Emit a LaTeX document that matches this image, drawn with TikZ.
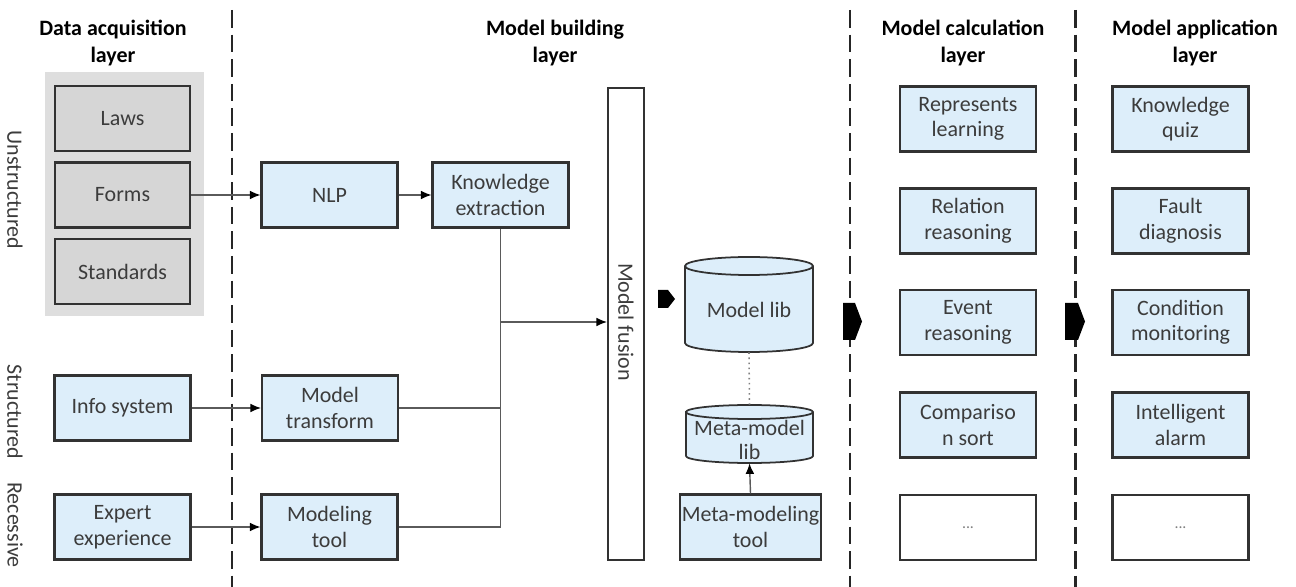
\documentclass[tikz,border=0pt]{standalone}
\usepackage{fontspec}
\setmainfont{Carlito}
\usetikzlibrary{arrows.meta}
\definecolor{boxblue}{RGB}{221,238,250}
\definecolor{boxgray}{RGB}{214,214,214}
\definecolor{panelgray}{RGB}{222,222,222}
\definecolor{edge}{RGB}{50,50,50}
\definecolor{ink}{RGB}{60,60,60}
\definecolor{wire}{RGB}{90,90,90}
\tikzset{
  base/.style={draw=edge, line width=1.2pt, inner sep=1pt, align=center,
    text=ink, font=\fontsize{12.5}{14.5}\selectfont},
  bluebox/.style={base, fill=boxblue, minimum width=2.72cm, minimum height=1.3cm},
  graybox/.style={base, fill=boxgray, minimum width=2.70cm, minimum height=1.3cm},
  blankbox/.style={base, fill=white, minimum width=2.72cm, minimum height=1.3cm},
  layertitle/.style={align=center, font=\bfseries\fontsize{12.5}{15.5}\selectfont, text=black},
  sidelabel/.style={rotate=-90, text=ink, font=\fontsize{12.5}{15}\selectfont},
  divider/.style={draw=black!85, line width=1.7pt, dash pattern=on 10pt off 4pt},
  flow/.style={draw=wire, line width=0.8pt, -{Latex[length=6pt,width=5pt,color=black]}},
  plain/.style={draw=wire, line width=0.8pt},
  blockarrow/.style={fill=black, draw=none},
  cyl/.style={fill=boxblue, draw=edge, line width=1pt},
}
\begin{document}
\begin{tikzpicture}[x=0.02cm, y=-0.02cm]
\useasboundingbox (0,0) rectangle (1296,587);

% layer dividers
\draw[divider] (232,10) -- (232,587);
\draw[divider] (850,10) -- (850,587);
\draw[divider] (1075,10) -- (1075,587);

% layer titles
\node[layertitle] (t1) at (113,43) {Data acquisition\\layer};
\node[layertitle] (t2) at (555,43) {Model building\\layer};
\node[layertitle] (t3) at (963,43) {Model calculation\\layer};
\node[layertitle] (t4) at (1195,43) {Model application\\layer};

% data categories
\node[sidelabel] (s1) at (15,190) {Unstructured};
\node[sidelabel] (s2) at (15,412) {Structured};
\node[sidelabel] (s3) at (15,525) {Recessive};

% unstructured sources
\fill[panelgray] (45,72) rectangle (204,316);
\node[graybox] (laws) at (122.5,118.5) {Laws};
\node[graybox] (forms) at (122.5,195) {Forms};
\node[graybox] (standards) at (122.5,271.5) {Standards};

% structured and recessive sources
\node[bluebox] (info) at (122.5,408) {Info system};
\node[bluebox] (expert) at (122.5,527) {Expert\\experience};

% model building
\node[bluebox] (nlp) at (329.5,195) {NLP};
\node[bluebox] (ke) at (500.5,195) {Knowledge\\extraction};
\node[bluebox] (mt) at (330,408) {Model\\transform};
\node[bluebox] (mtool) at (329.5,527) {Modeling\\tool};

\node[draw=edge, line width=1.2pt, fill=white, minimum width=0.72cm, minimum height=9.44cm,
      inner sep=0pt] (fusion) at (626,324) {};
\node[sidelabel, text=ink] (fusiontext) at (626,322) {Model fusion};

% model library cylinder (y grows downwards here)
\filldraw[cyl]
  (685,266) -- (685,343) arc[start angle=180, end angle=0, x radius=64, y radius=9]
  -- (813,266) arc[start angle=0, end angle=-180, x radius=64, y radius=9] -- cycle;
\draw[edge, line width=1pt] (685,266) arc[start angle=180, end angle=0, x radius=64, y radius=9];
\node[inner sep=0pt, minimum width=2.56cm, minimum height=1.9cm] (mlib) at (749,304.5) {};
\node[text=ink, font=\fontsize{12.5}{14.5}\selectfont] (mlibtext) at (749,310) {Model lib};

% meta-model library cylinder
\filldraw[cyl]
  (686,412) -- (686,456) arc[start angle=180, end angle=0, x radius=63.5, y radius=7]
  -- (813,412) arc[start angle=0, end angle=-180, x radius=63.5, y radius=7] -- cycle;
\draw[edge, line width=1pt] (686,412) arc[start angle=180, end angle=0, x radius=63.5, y radius=7];
\node[inner sep=0pt, minimum width=2.54cm, minimum height=1.16cm] (metalib) at (749.5,434) {};
\node[text=ink, align=center, font=\fontsize{12.5}{14}\selectfont] (metalibtext) at (749.5,440) {Meta-model\\lib};

\node[bluebox, minimum width=2.7cm] (metatool) at (750.5,527) {Meta-modeling\\tool};

% model calculation
\node[bluebox] (c1) at (968,119) {Represents\\learning};
\node[bluebox] (c2) at (968,221) {Relation\\reasoning};
\node[bluebox] (c3) at (968,322.5) {Event\\reasoning};
\node[bluebox] (c4) at (968,425) {Compariso\\n sort};
\node[blankbox] (c5) at (968,527.5) {\textcolor{gray}{\fontsize{9}{10}\selectfont ...}};

% model application
\node[bluebox] (a1) at (1180.5,119) {Knowledge\\quiz};
\node[bluebox] (a2) at (1180.5,221) {Fault\\diagnosis};
\node[bluebox] (a3) at (1180.5,322.5) {Condition\\monitoring};
\node[bluebox] (a4) at (1180.5,425) {Intelligent\\alarm};
\node[blankbox] (a5) at (1180.5,527.5) {\textcolor{gray}{\fontsize{9}{10}\selectfont ...}};

% connectors
\draw[flow] (forms.east) -- (nlp.west);
\draw[flow] (nlp) -- (ke);
\draw[flow] (info) -- (mt);
\draw[flow] (expert) -- (mtool);
\coordinate (join) at (500.5,322);
\draw[plain] (ke.south) -- (join);
\draw[plain] (mt.east) -| (join);
\draw[plain] (mtool.east) -| (join);
\draw[flow] (join) -- (fusion.west |- join);
\draw[draw=gray, line width=0.9pt, dotted] (mlib.south) -- (metalib.north);
\draw[flow] (metatool.north) -- (metalib.south);

% flow between layers
\fill[blockarrow] (658,290) -- (668,290) -- (675,299) -- (668,308) -- (658,308) -- cycle;
\fill[blockarrow] (843,303) -- (855,303) -- (862,321.5) -- (855,340) -- (843,340) -- cycle;
\fill[blockarrow] (1065,303) -- (1078,303) -- (1085,321.5) -- (1078,340) -- (1065,340) -- cycle;
\end{tikzpicture}
\end{document}
